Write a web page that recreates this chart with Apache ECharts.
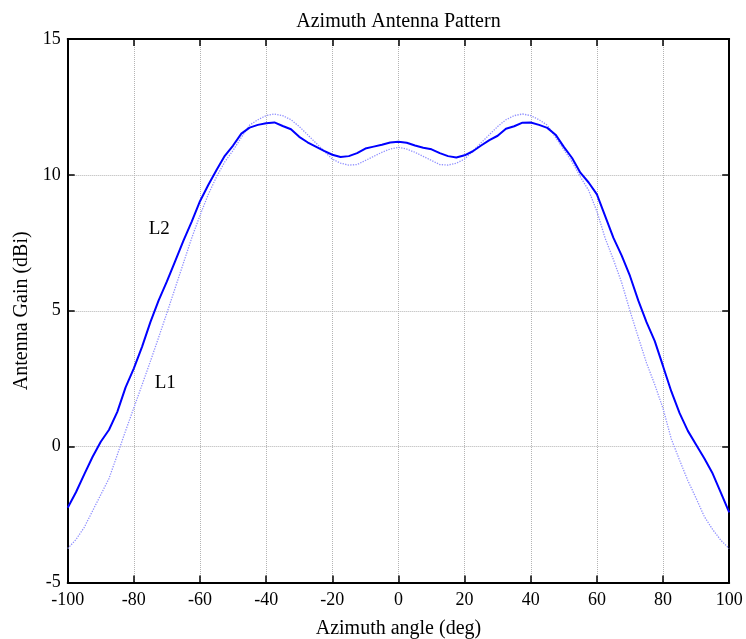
<!DOCTYPE html>
<html>
<head>
<meta charset="utf-8">
<script src="https://cdn.jsdelivr.net/npm/echarts@6/dist/echarts.min.js"></script>
<style>
html,body{margin:0;padding:0;background:#fff;}
#chart{width:746px;height:639px;}
</style>
</head>
<body>
<div id="chart"></div>
<script>
// ---- data ----
const chartTitle = 'Azimuth Antenna Pattern';
const xAxisTitle = 'Azimuth angle (deg)';
const yAxisTitle = 'Antenna Gain (dBi)';
const xTicks = [-100, -80, -60, -40, -20, 0, 20, 40, 60, 80, 100];
const yTicks = [-5, 0, 5, 10, 15];

const angles = [
  -100, -97.5, -95, -92.5, -90, -87.5, -85, -82.5, -80, -77.5,
  -75, -72.5, -70, -67.5, -65, -62.5, -60, -57.5, -55, -52.5,
  -50, -47.5, -45, -42.5, -40, -37.5, -35, -32.5, -30, -27.5,
  -25, -22.5, -20, -17.5, -15, -12.5, -10, -7.5, -5, -2.5,
  0, 2.5, 5, 7.5, 10, 12.5, 15, 17.5, 20, 22.5,
  25, 27.5, 30, 32.5, 35, 37.5, 40, 42.5, 45, 47.5,
  50, 52.5, 55, 57.5, 60, 62.5, 65, 67.5, 70, 72.5,
  75, 77.5, 80, 82.5, 85, 87.5, 90, 92.5, 95, 97.5, 100
];

// L2 (solid)
const gainL2 = [
  -2.25, -1.68, -1.02, -0.38, 0.18, 0.62, 1.28, 2.18, 2.88, 3.68,
  4.58, 5.38, 6.08, 6.83, 7.58, 8.28, 9.03, 9.63, 10.18, 10.7,
  11.08, 11.52, 11.74, 11.84, 11.9, 11.93, 11.8, 11.68, 11.4, 11.2,
  11.04, 10.88, 10.74, 10.66, 10.69, 10.8, 10.97, 11.04, 11.11, 11.19,
  11.22, 11.18, 11.08, 11.0, 10.94, 10.8, 10.69, 10.64, 10.72, 10.87,
  11.08, 11.28, 11.44, 11.7, 11.79, 11.92, 11.93, 11.84, 11.73, 11.48,
  11.03, 10.62, 10.08, 9.72, 9.28, 8.48, 7.68, 7.03, 6.28, 5.38,
  4.58, 3.88, 2.96, 2.03, 1.23, 0.58, 0.07, -0.44, -0.99, -1.7, -2.42
];

// L1 (dotted)
const gainL1 = [
  -3.75, -3.42, -2.97, -2.37, -1.77, -1.17, -0.3, 0.58, 1.43, 2.28,
  3.14, 4.02, 4.92, 5.84, 6.76, 7.68, 8.51, 9.28, 9.93, 10.48,
  10.9, 11.38, 11.83, 12.03, 12.18, 12.24, 12.18, 12.03, 11.78, 11.48,
  11.18, 10.88, 10.58, 10.43, 10.36, 10.38, 10.53, 10.68, 10.83, 10.95,
  11.01, 10.95, 10.83, 10.68, 10.53, 10.38, 10.36, 10.43, 10.58, 10.88,
  11.18, 11.48, 11.78, 12.03, 12.18, 12.24, 12.18, 12.03, 11.83, 11.38,
  10.93, 10.48, 9.93, 9.43, 8.66, 7.67, 6.88, 6.03, 5.0, 4.03,
  3.08, 2.28, 1.4, 0.28, -0.5, -1.25, -1.9, -2.58, -3.05, -3.45, -3.75
];

// curve annotations
const annotText = ['L2', 'L1'];
const annotAngle = [-72.3, -70.5];
const annotGain = [8.0, 2.35];

// ---- chart ----
const FONT = "'Liberation Serif', 'Times New Roman', serif";
const chart = echarts.init(document.getElementById('chart'), null, {renderer: 'canvas'});

const axisLineStyle = {show: true, onZero: false, lineStyle: {color: '#000', width: 2}};
const tickStyle = {show: true, inside: true, length: 7, lineStyle: {color: '#000', width: 1.5}};
const gridStyle = {show: true, lineStyle: {color: '#b4b4b4', type: 'dotted', width: 1}};

const option = {
  backgroundColor: '#fff',
  animation: false,
  grid: {left: 67.7, right: 16.8, top: 39, bottom: 56.5, containLabel: false, outerBoundsMode: 'none'},
  xAxis: [
    {
      type: 'value', position: 'bottom', min: xTicks[0], max: xTicks[xTicks.length - 1], interval: 20,
      axisLine: axisLineStyle, axisTick: tickStyle, splitLine: gridStyle,
      axisLabel: {show: true, margin: 9, color: '#000', fontSize: 18, fontFamily: FONT},
      name: xAxisTitle, nameLocation: 'middle', nameGap: 36,
      nameTextStyle: {color: '#000', fontSize: 20, fontFamily: FONT}
    },
    {
      type: 'value', position: 'top', min: xTicks[0], max: xTicks[xTicks.length - 1], interval: 20,
      axisLine: axisLineStyle, axisTick: tickStyle, splitLine: {show: false},
      axisLabel: {show: false},
      name: chartTitle, nameLocation: 'middle', nameGap: 7,
      nameTextStyle: {color: '#000', fontSize: 20, fontFamily: FONT}
    }
  ],
  yAxis: [
    {
      type: 'value', position: 'left', min: yTicks[0], max: yTicks[yTicks.length - 1], interval: 5,
      axisLine: axisLineStyle, axisTick: tickStyle, splitLine: gridStyle,
      axisLabel: {show: true, margin: 7, color: '#000', fontSize: 18, fontFamily: FONT},
      name: yAxisTitle, nameLocation: 'middle', nameGap: 35, nameRotate: 90,
      nameTextStyle: {color: '#000', fontSize: 20, fontFamily: FONT}
    },
    {
      type: 'value', position: 'right', min: yTicks[0], max: yTicks[yTicks.length - 1], interval: 5,
      axisLine: axisLineStyle, axisTick: tickStyle, splitLine: {show: false},
      axisLabel: {show: false}
    }
  ],
  series: [
    {
      name: 'L1', type: 'line', xAxisIndex: 0, yAxisIndex: 0,
      data: angles.map((a, i) => [a, gainL1[i]]),
      symbol: 'none', smooth: false,
      lineStyle: {color: '#9090ff', width: 1.3, type: 'dotted'},
      z: 2
    },
    {
      name: 'L2', type: 'line', xAxisIndex: 0, yAxisIndex: 0,
      data: angles.map((a, i) => [a, gainL2[i]]),
      symbol: 'none', smooth: false,
      lineStyle: {color: '#0000ff', width: 2},
      z: 3
    },
    {
      name: 'labels', type: 'scatter', xAxisIndex: 0, yAxisIndex: 0,
      data: annotText.map((t, i) => ({value: [annotAngle[i], annotGain[i]], name: t})),
      symbolSize: 0, silent: true,
      itemStyle: {opacity: 1, color: '#000'},
      label: {show: true, position: 'inside', formatter: p => p.name, opacity: 1,
              color: '#000', fontSize: 19, fontFamily: FONT},
      z: 4
    }
  ]
};
chart.setOption(option);
</script>
</body>
</html>
